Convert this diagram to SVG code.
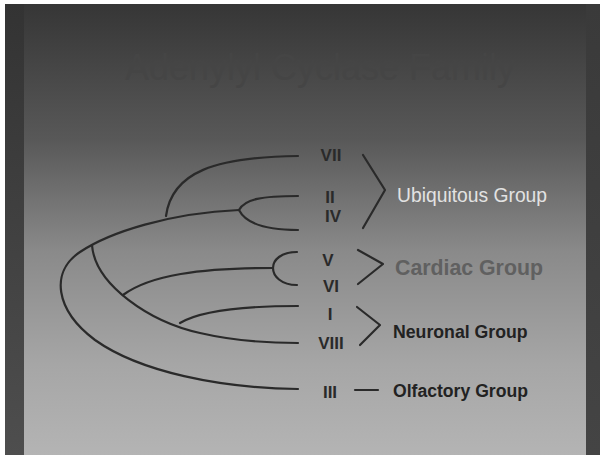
<svg xmlns="http://www.w3.org/2000/svg" width="600" height="463" viewBox="0 0 600 463">
<defs>
<linearGradient id="bg" x1="0" y1="0" x2="0" y2="1">
<stop offset="0" stop-color="#363636"/>
<stop offset="0.3" stop-color="#585858"/>
<stop offset="0.55" stop-color="#8a8a8a"/>
<stop offset="0.8" stop-color="#a6a6a6"/>
<stop offset="1" stop-color="#b4b4b4"/>
</linearGradient>
<linearGradient id="lstrip" x1="0" y1="0" x2="0" y2="1">
<stop offset="0" stop-color="#333"/>
<stop offset="1" stop-color="#4e4e4e"/>
</linearGradient>
<linearGradient id="rstrip" x1="0" y1="0" x2="0" y2="1">
<stop offset="0" stop-color="#3a3a3a"/>
<stop offset="1" stop-color="#444"/>
</linearGradient>
<style>
.br{fill:none;stroke:#2a2a2a;stroke-width:2.2;stroke-linecap:round;stroke-linejoin:round}
.num{font-family:"Liberation Sans",Arial,sans-serif;font-weight:bold;font-size:17px;fill:#2a2a2a;text-anchor:middle}
.grp{font-family:"Liberation Sans",Arial,sans-serif}
</style>
</defs>
<rect width="600" height="463" fill="#ffffff"/>
<rect x="5" y="4" width="595" height="451" fill="url(#bg)"/>
<rect x="5" y="4" width="19" height="451" fill="url(#lstrip)"/>
<rect x="586" y="4" width="14" height="451" fill="url(#rstrip)"/>
<text x="320" y="80" text-anchor="middle" font-family="'Liberation Sans',Arial,sans-serif" font-size="36" fill="#454545">Adenylyl Cyclase Family</text>
<g id="connectors">
<path class="br" d="M239,210 C170,213 110,232 80,252 C50,272 55,310 95,340 C140,372 220,388 298,389"/>
<path class="br" d="M166,216 C172,172 215,157 298,156"/>
<path class="br" d="M239,210 C245,199 262,196 298,196"/>
<path class="br" d="M239,210 C245,222 262,230 298,230"/>
<path class="br" d="M92,245 C95,285 150,322 200,333 C230,340 260,343 298,343"/>
<path class="br" d="M123,295 C150,275 200,268 273,268"/>
<path class="br" d="M297,252 C281,252 273,260 273,268 C273,276 281,285 297,285"/>
<path class="br" d="M180,323 C200,311 240,306 298,306"/>
<path class="br" d="M363,155 L385,190 L363,228"/>
<path class="br" d="M358,250 L383,264 L358,284"/>
<path class="br" d="M357,307 L380,325 L360,345"/>
<path class="br" d="M355,390 L378,390"/>
</g>
<g id="n-VII"><text class="num" x="331" y="161">VII</text></g>
<g id="n-II"><text class="num" x="330" y="203">II</text></g>
<g id="n-IV"><text class="num" x="333" y="222">IV</text></g>
<g id="n-V"><text class="num" x="328" y="266">V</text></g>
<g id="n-VI"><text class="num" x="331" y="292">VI</text></g>
<g id="n-I"><text class="num" x="330" y="320">I</text></g>
<g id="n-VIII"><text class="num" x="331" y="349">VIII</text></g>
<g id="n-III"><text class="num" x="330" y="398">III</text></g>
<g id="g-ubiquitous"><text class="grp" x="397" y="202" font-size="19.3" fill="#e2e2e2">Ubiquitous Group</text></g>
<g id="g-cardiac"><text class="grp" x="395" y="275" font-size="21.3" font-weight="bold" fill="#606060">Cardiac Group</text></g>
<g id="g-neuronal"><text class="grp" x="393" y="338" font-size="17.7" font-weight="bold" fill="#222">Neuronal Group</text></g>
<g id="g-olfactory"><text class="grp" x="393" y="397" font-size="17.6" font-weight="bold" fill="#222">Olfactory Group</text></g>
</svg>
